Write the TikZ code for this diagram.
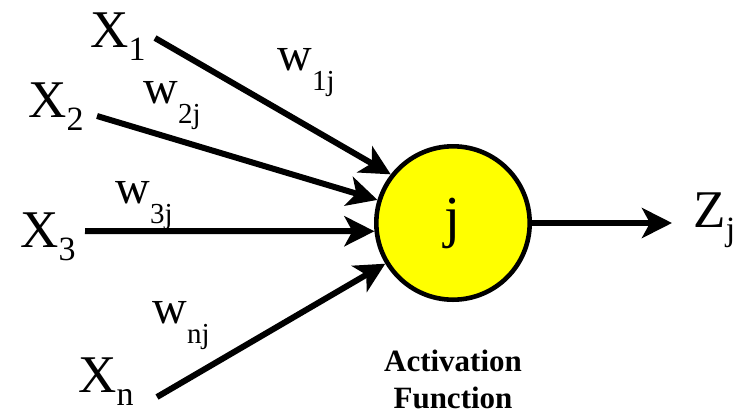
\documentclass[tikz,border=0pt]{standalone}
\usepackage{fontspec}
\setmainfont{Liberation Serif}
\usetikzlibrary{arrows.meta, positioning}
\definecolor{cNeuron}{RGB}{255,255,0}
\newcommand{\xidx}[1]{\raisebox{-6.5pt}{\fontsize{17}{17}\selectfont #1}}
\newcommand{\widx}[1]{\raisebox{-10pt}{\fontsize{14.5}{14.5}\selectfont #1}}
\tikzset{
	inp/.style   ={inner sep=0pt, anchor=base west, font=\fontsize{26.5}{26.5}\selectfont},
	wgt/.style   ={inner sep=0pt, anchor=base west, font=\fontsize{24}{24}\selectfont},
	neuron/.style={circle, draw=black, line width=2.3pt, fill=cNeuron, minimum size=76.7pt, inner sep=0pt, font=\fontsize{29}{29}\selectfont},
	sig/.style   ={-{Stealth[length=15pt, width=15pt, inset=4pt]}, line width=3pt},
	actlbl/.style={align=center, inner sep=0pt, font=\fontsize{15.5}{18.5}\selectfont\bfseries},
}
\begin{document}
\begin{tikzpicture}[x=0.5pt, y=-0.5pt]
	\useasboundingbox (0,0) rectangle (733,413);
	% neuron
	\node[neuron] (nrn) at (453,223) {j};
	\node[actlbl, below=24pt of nrn] (act) {Activation\\ Function};
	% inputs
	\node[inp] (x1) at (90,47) {X\xidx{1}};
	\node[inp] (x2) at (28,117) {X\xidx{2}};
	\node[inp] (x3) at (20,247) {X\xidx{3}};
	\node[inp] (xn) at (78,392) {X\xidx{n}};
	% weights
	\node[wgt] (w1) at (277,70) {w\widx{1j}};
	\node[wgt] (w2) at (143,103) {w\widx{2j}};
	\node[wgt] (w3) at (115,203) {w\widx{3j}};
	\node[wgt] (wn) at (152,323) {w\widx{nj}};
	% input arrows
	\coordinate (s1) at (155,38);
	\coordinate (s2) at (97,116);
	\coordinate (s3) at (85,231);
	\coordinate (sn) at (157,397);
	\draw[sig] (s1) -- (nrn.142);
	\draw[sig] (s2) -- (nrn.163);
	\draw[sig] (s3) -- (nrn.186);
	\draw[sig] (sn) -- (nrn.211);
	% output
	\node[inp] (zj) at (693,227) {Z\xidx{j}};
	\draw[sig] (nrn) -- ([xshift=-10.5pt]nrn.east -| zj.west);
\end{tikzpicture}
\end{document}
